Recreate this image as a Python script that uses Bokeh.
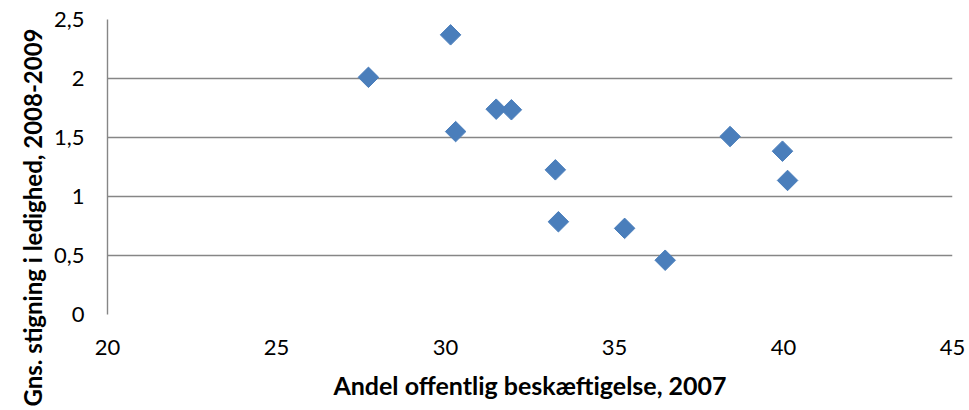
import math
from bokeh.plotting import figure
from bokeh.models import Range1d, FixedTicker, Title
from bokeh.embed import file_html
from bokeh.resources import INLINE

# Data
offentlig_andel = [27.72, 30.15, 30.30, 31.50, 31.95, 33.25, 33.34, 35.30, 36.50, 38.42, 39.97, 40.12]
stigning_ledighed = [2.01, 2.37, 1.55, 1.74, 1.735, 1.226, 0.786, 0.73, 0.46, 1.508, 1.384, 1.136]

x_ticks = [20, 25, 30, 35, 40, 45]
x_tick_labels = ["20", "25", "30", "35", "40", "45"]
y_ticks = [0, 0.5, 1, 1.5, 2, 2.5]
y_tick_labels = ["0", "0,5", "1", "1,5", "2", "2,5"]

x_title = "Andel offentlig beskæftigelse, 2007"
y_title = "Gns. stigning i ledighed, 2008-2009"

FONT = "Lato"
GRID = "#868686"
BLUE = "#4A7EBB"

p = figure(width=969, height=410, output_backend="svg", toolbar_location=None,
           x_range=Range1d(20, 45), y_range=Range1d(0, 2.5),
           frame_width=845, frame_height=295,
           min_border_left=107, min_border_top=19, min_border_right=17, min_border_bottom=96)
p.outline_line_color = None
p.background_fill_color = "white"
p.border_fill_color = "white"

p.xgrid.grid_line_color = None
p.ygrid.grid_line_color = GRID
p.ygrid.grid_line_width = 1.4

p.xaxis.ticker = FixedTicker(ticks=x_ticks)
p.yaxis.ticker = FixedTicker(ticks=y_ticks)
p.xaxis.major_label_overrides = {t: l for t, l in zip(x_ticks, x_tick_labels)}
p.yaxis.major_label_overrides = {t: l for t, l in zip(y_ticks, y_tick_labels)}

for ax in (p.xaxis, p.yaxis):
    ax.major_tick_line_color = None
    ax.minor_tick_line_color = None
    ax.major_tick_out = 0
    ax.major_tick_in = 0
    ax.major_label_text_font = FONT
    ax.major_label_text_font_size = "22px"
    ax.major_label_text_color = "black"

p.xaxis.axis_line_color = None
p.yaxis.axis_line_color = GRID
p.yaxis.axis_line_width = 1.4
p.xaxis.major_label_standoff = 25
p.yaxis.major_label_standoff = 23

p.xaxis.axis_label = x_title
p.xaxis.axis_label_text_font = FONT
p.xaxis.axis_label_text_font_style = "bold"
p.xaxis.axis_label_text_font_size = "25px"
p.xaxis.axis_label_text_color = "black"
p.xaxis.axis_label_standoff = 12

p.scatter(offentlig_andel, stigning_ledighed, marker="square", size=14.5, angle=math.pi / 4,
          fill_color=BLUE, line_color=BLUE)

# rotated y-axis title in the left side panel, shifted downward like the reference
ytitle = Title(text=y_title, align="left", offset=-92, standoff=8,
               text_font=FONT, text_font_style="bold", text_font_size="24px",
               text_color="black")
p.add_layout(ytitle, "left")

open("out.html", "w").write(file_html(p, INLINE))
